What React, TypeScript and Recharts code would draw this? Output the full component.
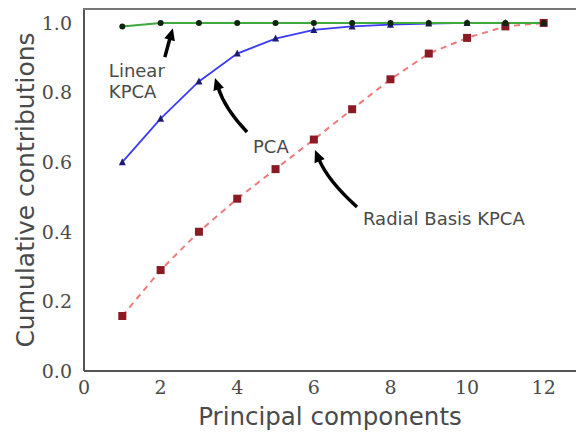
import React from "react";
import {
  LineChart,
  Line,
  XAxis,
  YAxis,
  ReferenceDot,
} from "recharts";

// values
const components = [1, 2, 3, 4, 5, 6, 7, 8, 9, 10, 11, 12];
const linearKpca = [0.99, 1.0, 1.0, 1.0, 1.0, 1.0, 1.0, 1.0, 1.0, 1.0, 1.0, 1.0];
const pca = [0.6, 0.725, 0.832, 0.912, 0.955, 0.98, 0.99, 0.995, 0.998, 1.0, 1.0, 1.0];
const rbfKpca = [0.158, 0.29, 0.4, 0.495, 0.58, 0.665, 0.752, 0.838, 0.912, 0.957, 0.99, 1.0];
const xTicks = [0, 2, 4, 6, 8, 10, 12];
const yTicks = [0, 0.2, 0.4, 0.6, 0.8, 1.0];
const xMax = 13;
const yMax = 1.04;

const rows = components.map((c, i) => ({
  x: c,
  linear: linearKpca[i],
  pca: pca[i],
  rbf: rbfKpca[i],
}));

const AXIS = "#555";
const TEXT = "#4a4a4a";
const SANS = "'DejaVu Sans', sans-serif";
const SERIF = "'DejaVu Serif', serif";

// annotation arrows: anchored at the arrow tip (data coords), offsets in px
const notes = [
  { lines: ["Linear", "KPCA"], x: 2.32, y: 0.985, tail: [-8, 29], ctrl: [-4, 14], text: [-64, 42] },
  { lines: ["PCA"], x: 3.42, y: 0.842, tail: [32, 54], ctrl: [10, 31], text: [38, 69] },
  { lines: ["Radial Basis KPCA"], x: 6.03, y: 0.635, tail: [42, 57], ctrl: [13, 31], text: [48, 69] },
];

const Arrow = (props: any) => {
  const { cx, cy, note } = props;
  if (cx == null || cy == null) return null;
  const [tx, ty] = note.tail;
  const [qx, qy] = note.ctrl;
  // direction at the tip comes from the control point
  const len = Math.hypot(qx, qy) || 1;
  const ux = -qx / len;
  const uy = -qy / len;
  const hl = 12;
  const hw = 5.5;
  const bx = cx - ux * hl;
  const by = cy - uy * hl;
  const head = `${cx},${cy} ${bx - uy * hw},${by + ux * hw} ${bx + uy * hw},${by - ux * hw}`;
  const sx = cx + tx;
  const sy = cy + ty;
  const ex = bx + ux * 2;
  const ey = by + uy * 2;
  return (
    <g>
      <path
        d={`M${sx},${sy} Q${cx + qx},${cy + qy} ${ex},${ey}`}
        fill="none"
        stroke="#000"
        strokeWidth={3.5}
      />
      <polygon points={head} fill="#000" />
      {note.lines.map((l: string, i: number) => (
        <text
          key={l}
          x={cx + note.text[0]}
          y={cy + note.text[1] + i * 21}
          fill={TEXT}
          fontSize={18}
          fontFamily={SANS}
          dominantBaseline="central"
        >
          {l}
        </text>
      ))}
    </g>
  );
};

const YLabel = (props: any) => {
  const { viewBox } = props;
  const cy = viewBox.y + viewBox.height / 2;
  return (
    <text
      x={34}
      y={cy}
      transform={`rotate(-90, 34, ${cy})`}
      textAnchor="middle"
      fontSize={25}
      fontFamily={SANS}
      fill={TEXT}
    >
      Cumulative contributions
    </text>
  );
};

const XLabel = () => (
  <text
    x={330}
    y={425}
    textAnchor="middle"
    fontSize={24.5}
    fontFamily={SANS}
    fill={TEXT}
  >
    Principal components
  </text>
);

const Square = (props: any) => {
  const { cx, cy, index } = props;
  return <rect key={`sq-${index}`} x={cx - 4} y={cy - 4} width={8} height={8} fill="#8b1a24" />;
};

const Triangle = (props: any) => {
  const { cx, cy, index } = props;
  return (
    <polygon
      key={`tri-${index}`}
      points={`${cx},${cy - 4} ${cx - 3.5},${cy + 3} ${cx + 3.5},${cy + 3}`}
      fill="#1c1c6e"
    />
  );
};

const Circle = (props: any) => {
  const { cx, cy, index } = props;
  return <circle key={`c-${index}`} cx={cx} cy={cy} r={3} fill="#0d260d" />;
};

export default function App() {
  return (
    <div
      style={{
        position: "absolute",
        left: 0,
        top: 0,
        width: 576,
        height: 432,
        overflow: "hidden",
        background: "#fff",
      }}
    >
      <LineChart
        width={590}
        height={432}
        data={rows}
        margin={{ top: 9, right: 8, left: 0, bottom: 0 }}
      >
        <XAxis
          type="number"
          dataKey="x"
          domain={[0, xMax]}
          ticks={xTicks}
          height={61}
          tickSize={0}
          tickMargin={10}
          stroke={AXIS}
          strokeWidth={2}
          tick={{ fontFamily: SERIF, fontSize: 19, fill: TEXT }}
          label={<XLabel />}
        />
        <YAxis
          type="number"
          domain={[0, yMax]}
          ticks={yTicks}
          width={84}
          tickSize={0}
          tickMargin={12}
          stroke={AXIS}
          strokeWidth={2}
          tickFormatter={(v: number) => v.toFixed(1)}
          tick={{ fontFamily: SERIF, fontSize: 19, fill: TEXT }}
          label={<YLabel />}
        />
        <Line
          dataKey="rbf"
          stroke="#f07a7a"
          strokeWidth={2}
          strokeDasharray="6 5"
          dot={<Square />}
          isAnimationActive={false}
        />
        <Line
          dataKey="pca"
          stroke="#3b3bf5"
          strokeWidth={1.8}
          dot={<Triangle />}
          isAnimationActive={false}
        />
        <Line
          dataKey="linear"
          stroke="#3fa83f"
          strokeWidth={2}
          dot={<Circle />}
          isAnimationActive={false}
        />
        {notes.map((n) => (
          <ReferenceDot
            key={n.lines[0]}
            x={n.x}
            y={n.y}
            r={0}
            shape={(p: any) => <Arrow {...p} note={n} />}
          />
        ))}
      </LineChart>
      {/* top spine of the plot box (matches the chart margin + axis width) */}
      <div
        style={{
          position: "absolute",
          left: 83,
          top: 8,
          width: 500,
          height: 2,
          background: "#777",
        }}
      />
    </div>
  );
}
